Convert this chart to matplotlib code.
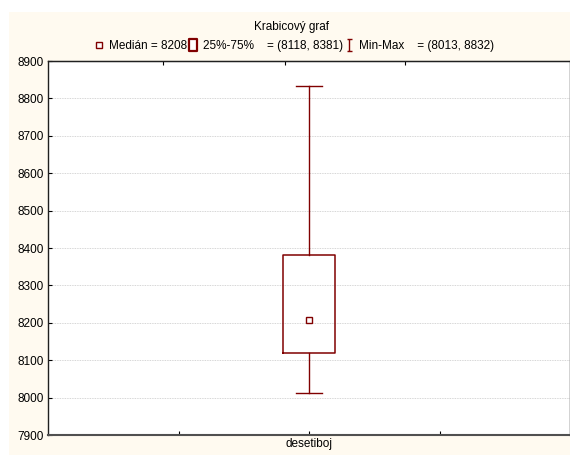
import matplotlib.pyplot as plt
import numpy as np
from matplotlib.lines import Line2D
from matplotlib.patches import Rectangle
from matplotlib.path import Path

plt.rcParams['font.family'] = ['Liberation Sans', 'DejaVu Sans']

# hodnoty z grafu
category = ["desetiboj"]
median = [8208]
q1 = [8118]
q3 = [8381]
vmin = [8013]
vmax = [8832]
yticks = list(range(7900, 9000, 100))

red = "#800000"
fs = 8.5

W, H = 570, 455
fig = plt.figure(figsize=(W / 100, H / 100), dpi=100, facecolor="white")
fig.patches.append(Rectangle((9 / W, 0), 1, 1 - 12 / H, transform=fig.transFigure,
                             facecolor="#fffaf0", edgecolor="none", zorder=-10))

ax = fig.add_axes([48 / W, 1 - 435 / H, (570 - 48) / W, (435 - 61) / H])
ax.set_facecolor("white")

stats = [{"med": median[i], "q1": q1[i], "q3": q3[i], "whislo": vmin[i],
          "whishi": vmax[i], "fliers": [], "label": category[i]}
         for i in range(len(category))]
pos = [2 + i for i in range(len(category))]
ax.bxp(stats, positions=pos, widths=0.4, capwidths=0.2, showfliers=False,
       boxprops=dict(color=red, lw=1.1), whiskerprops=dict(color=red, lw=1),
       capprops=dict(color=red, lw=1), medianprops=dict(visible=False))
ax.plot(pos, median, ls="none", marker="s", ms=4.5, mfc="white", mec=red, mew=1)

ax.set_xlim(0, 4)
ax.set_ylim(7900, 8900)
ax.set_yticks(yticks)
ax.set_xticks([1, 2, 3])
ax.set_xticklabels(["", category[0], ""])
ax.tick_params(axis="both", direction="in", labelsize=fs, length=3, width=0.8, pad=3)
ax.tick_params(axis="x", pad=2)
ax.yaxis.grid(True, color="#c8c8c8", ls=(0, (1, 1)), lw=0.6)
for s in ax.spines.values():
    s.set_linewidth(1)
    s.set_color("#202020")
ax.spines["bottom"].set_linewidth(1.5)
ax.spines["bottom"].set_color("#505050")

# horni osa s vlastnimi carkami
top = ax.secondary_xaxis("top")
top.set_xticks([0.88, 1.815, 2.735])
top.set_xticklabels([])
top.tick_params(direction="in", length=3, width=0.8)

fig.text(292 / W, 1 - 27 / H, "Krabicový graf", ha="center", va="center", fontsize=fs)

ibeam = Path([(-0.4, -1), (0.4, -1), (0, -1), (0, 1), (-0.4, 1), (0.4, 1)],
             [Path.MOVETO, Path.LINETO, Path.MOVETO, Path.LINETO, Path.MOVETO, Path.LINETO])
rect = Path([(-0.38, -0.5), (0.38, -0.5), (0.38, 0.5), (-0.38, 0.5), (-0.38, -0.5)],
            [Path.MOVETO, Path.LINETO, Path.LINETO, Path.LINETO, Path.CLOSEPOLY])
handles = [
    Line2D([], [], ls="none", marker="s", ms=4.3, mfc="white", mec=red, mew=1),
    Line2D([], [], ls="none", marker=rect, ms=8.5, mfc="white", mec=red, mew=1.6),
    Line2D([], [], ls="none", marker=ibeam, ms=9, mfc="none", mec=red, mew=1),
]
labels = [
    "Medián = %d" % median[0],
    "25%%-75%%    = (%d, %d)" % (q1[0], q3[0]),
    "Min-Max    = (%d, %d)" % (vmin[0], vmax[0]),
]
fig.legend(handles, labels, loc="center", bbox_to_anchor=(0.516, 1 - 46 / H), ncol=3,
           frameon=False, fontsize=fs, handlelength=0.8, handletextpad=0.45,
           columnspacing=0.1, borderaxespad=0, borderpad=0)

fig.savefig("out.png", dpi=100, facecolor=fig.get_facecolor())
